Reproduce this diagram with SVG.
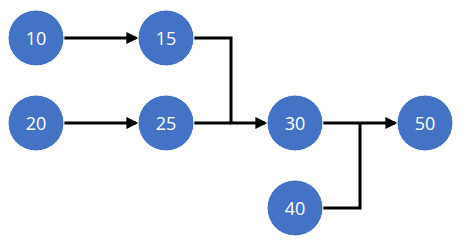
<svg xmlns="http://www.w3.org/2000/svg" width="463" height="245" viewBox="0 0 463 245">
<style>
.n circle{fill:#4472C4;stroke:#ffffff;stroke-width:1}
.n text{fill:#ffffff;font-family:"Open Sans","Noto Sans",sans-serif;font-size:18px;text-anchor:middle;dominant-baseline:central}
.c path{fill:none;stroke:#000000;stroke-width:3}
</style>
<defs>
<marker id="ah" markerWidth="4" markerHeight="4" refX="3.2" refY="2" orient="auto" markerUnits="strokeWidth">
<path d="M0,0 L4,2 L0,4 Z" fill="#000000"/>
</marker>
</defs>
<rect width="463" height="245" fill="#ffffff"/>
<g class="c" id="connectors">
<path d="M64,38 H136" marker-end="url(#ah)"/>
<path d="M64,123 H136" marker-end="url(#ah)"/>
<path d="M194,38 H231 V123 H265" marker-end="url(#ah)"/>
<path d="M194,123 H231"/>
<path d="M323,123 H395" marker-end="url(#ah)"/>
<path d="M323,208 H360 V123"/>
</g>
<g class="n" id="n10"><circle cx="36" cy="38" r="28"/><text x="36" y="38">10</text></g>
<g class="n" id="n15"><circle cx="166" cy="38" r="28"/><text x="166" y="38">15</text></g>
<g class="n" id="n20"><circle cx="36" cy="123" r="28"/><text x="36" y="123">20</text></g>
<g class="n" id="n25"><circle cx="166" cy="123" r="28"/><text x="166" y="123">25</text></g>
<g class="n" id="n30"><circle cx="295" cy="123" r="28"/><text x="295" y="123">30</text></g>
<g class="n" id="n40"><circle cx="295" cy="208" r="28"/><text x="295" y="208">40</text></g>
<g class="n" id="n50"><circle cx="425" cy="123" r="28"/><text x="425" y="123">50</text></g>
</svg>
